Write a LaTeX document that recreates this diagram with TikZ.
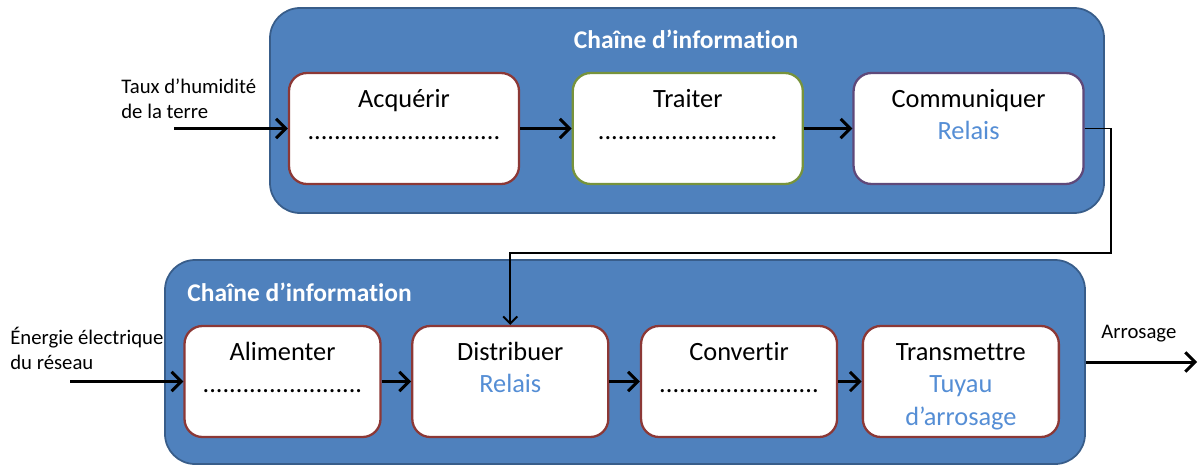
\documentclass[tikz,border=0pt]{standalone}
\usepackage{fontspec}
\setmainfont{Carlito}[Ligatures=NoCommon]
\usepackage{xcolor}
\usetikzlibrary{positioning,arrows.meta}

\definecolor{fondbleu}{HTML}{4F81BD}
\definecolor{bordbleu}{HTML}{385D8A}
\definecolor{bordrouge}{HTML}{8C3836}
\definecolor{bordvert}{HTML}{77933C}
\definecolor{bordviolet}{HTML}{5F497A}
\definecolor{texterelais}{HTML}{558ED5}

\begin{document}
\begin{tikzpicture}[
    chaine/.style={draw=bordbleu, line width=1pt, fill=fondbleu, rounded corners=0.6cm},
    fonction/.style={draw=bordrouge, line width=1.3pt, fill=white, rounded corners=0.36cm, minimum height=2.22cm},
    intitule/.style={font=\fontsize{15}{18.5}\selectfont, align=center, inner sep=0pt},
    titre/.style={font=\fontsize{14.5}{17}\selectfont\bfseries, text=white, inner sep=0pt},
    legende/.style={font=\fontsize{11.8}{14.2}\selectfont, align=left, inner sep=0pt},
    fleche/.style={-{Straight Barb[length=5.5pt,width=11pt]}, line width=1.7pt},
    retour/.style={-{Straight Barb[length=4pt,width=8pt]}, line width=1.1pt}]
    \useasboundingbox (0,0) rectangle (23.96,-9.32);

    % Chaine du haut
    \node[chaine, minimum width=16.68cm, minimum height=4.1cm] (haut) at (13.74,-2.21) {};
    \node[titre] (haut-titre) at (13.72,-0.78) {Chaîne d’information};

    \node[fonction, minimum width=4.6cm] (acq) at (8.08,-2.57) {};
    \node[fonction, draw=bordvert, minimum width=4.6cm, right=1.03cm of acq] (trai) {};
    \node[fonction, draw=bordviolet, minimum width=4.6cm, right=0.97cm of trai] (com) {};

    \node[intitule, below=7.05pt of acq.north] (acq-t) {\strut Acquérir\\.............................};
    \node[intitule, below=7.05pt of trai.north] (trai-t) {\strut Traiter\\...........................};
    \node[intitule, below=7.05pt of com.north] (com-t) {\strut Communiquer\\{\color{texterelais}Relais}};

    % Chaine du bas
    \node[chaine, minimum width=18.4cm, minimum height=4.08cm] (bas) at (12.5,-7.24) {};
    \node[titre, anchor=west] (bas-titre) at (3.74,-5.84) {Chaîne d’information};

    \node[fonction, minimum width=3.92cm] (ali) at (5.65,-7.63) {};
    \node[fonction, minimum width=3.92cm, right=0.59cm of ali] (dist) {};
    \node[fonction, minimum width=3.92cm, right=0.61cm of dist] (conv) {};
    \node[fonction, minimum width=3.92cm, right=0.47cm of conv] (trans) {};

    \node[intitule, below=7.05pt of ali.north] (ali-t) {\strut Alimenter\\........................};
    \node[intitule, below=7.05pt of dist.north] (dist-t) {\strut Distribuer\\{\color{texterelais}Relais}};
    \node[intitule, below=7.05pt of conv.north] (conv-t) {\strut Convertir\\........................};
    \node[intitule, below=7.05pt of trans.north] (trans-t) {\strut Transmettre\\{\color{texterelais}Tuyau}\\{\color{texterelais}d’arrosage}};

    % Entrees et sorties
    \node[legende, anchor=north west] (humid-t) at (2.42,-1.51) {\strut Taux d’humidité\\de la terre};
    \node[legende, anchor=north west] (energie-t) at (0.2,-6.53) {\strut Énergie électrique\\du réseau};
    \node[legende, anchor=base west] (arros-t) at (22.02,-6.76) {Arrosage};
    \coordinate (humid) at (3.48,-2.57);
    \coordinate (energie) at (1.4,-7.63);
    \coordinate (arros) at (23.94,-7.24);

    % Fleches
    \draw[fleche] (humid) -- (acq);
    \draw[fleche] (acq) -- (trai);
    \draw[fleche] (trai) -- (com);
    \draw[retour] (com.east) -- ++(0.52,0) |- ([yshift=1.44cm]dist.north) -- (dist.north);
    \draw[fleche] (energie) -- (ali);
    \draw[fleche] (ali) -- (dist);
    \draw[fleche] (dist) -- (conv);
    \draw[fleche] (conv) -- (trans);
    \draw[fleche] (bas.east) -- (arros);
\end{tikzpicture}
\end{document}
